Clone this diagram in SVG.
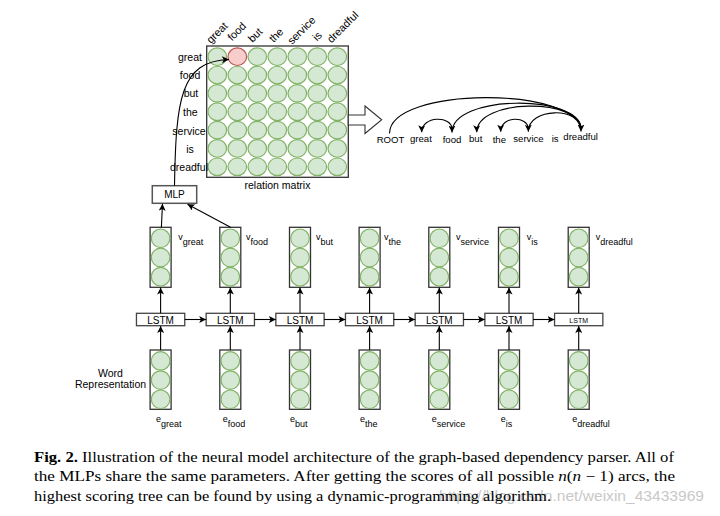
<svg xmlns="http://www.w3.org/2000/svg" xmlns:xlink="http://www.w3.org/1999/xlink" width="720" height="516" viewBox="0 0 720 516">
<style>
.t{font-family:"Liberation Sans",Arial,sans-serif;fill:#000}
.g{fill:#d5e8d4;stroke:#82b366;stroke-width:1.2}
.r{fill:#f8cecc;stroke:#b85450;stroke-width:1.2}
.box{fill:none;stroke:#333;stroke-width:1.3}
.lstm{fill:#fff;stroke:#444;stroke-width:1.3}
.e{fill:none;stroke:#000;stroke-width:1.1}
.cap{font-family:"Liberation Serif","Times New Roman",serif;font-size:14.6px;fill:#000}
</style>
<defs>
<marker id="ah" viewBox="0 0 8 8" refX="8" refY="4" markerWidth="7" markerHeight="7" markerUnits="userSpaceOnUse" orient="auto">
<path d="M0,0 L8,4 L0,8 L2,4 z" fill="#000"/>
</marker>
<ellipse id="mc" cx="0" cy="0" rx="9.3" ry="8.8"/>
<g id="col">
<circle class="g" cx="0" cy="0" r="9.3"/>
<circle class="g" cx="0" cy="19.2" r="9.3"/>
<circle class="g" cx="0" cy="38.4" r="9.3"/>
</g>
</defs>
<rect width="720" height="516" fill="#fff"/>

<g id="matrix">
<rect x="206.7" y="46" width="141.6" height="131.3" fill="#fff" stroke="#333" stroke-width="1.3"/>
<g class="g">
<use xlink:href="#mc" x="217.3" y="56.7"/><use xlink:href="#mc" x="237.3" y="56.7" class="r" style="fill:#f8cecc;stroke:#b85450"/><use xlink:href="#mc" x="257.3" y="56.7"/><use xlink:href="#mc" x="277.3" y="56.7"/><use xlink:href="#mc" x="297.3" y="56.7"/><use xlink:href="#mc" x="317.3" y="56.7"/><use xlink:href="#mc" x="337.3" y="56.7"/>
<use xlink:href="#mc" x="217.3" y="75.05"/><use xlink:href="#mc" x="237.3" y="75.05"/><use xlink:href="#mc" x="257.3" y="75.05"/><use xlink:href="#mc" x="277.3" y="75.05"/><use xlink:href="#mc" x="297.3" y="75.05"/><use xlink:href="#mc" x="317.3" y="75.05"/><use xlink:href="#mc" x="337.3" y="75.05"/>
<use xlink:href="#mc" x="217.3" y="93.4"/><use xlink:href="#mc" x="237.3" y="93.4"/><use xlink:href="#mc" x="257.3" y="93.4"/><use xlink:href="#mc" x="277.3" y="93.4"/><use xlink:href="#mc" x="297.3" y="93.4"/><use xlink:href="#mc" x="317.3" y="93.4"/><use xlink:href="#mc" x="337.3" y="93.4"/>
<use xlink:href="#mc" x="217.3" y="111.75"/><use xlink:href="#mc" x="237.3" y="111.75"/><use xlink:href="#mc" x="257.3" y="111.75"/><use xlink:href="#mc" x="277.3" y="111.75"/><use xlink:href="#mc" x="297.3" y="111.75"/><use xlink:href="#mc" x="317.3" y="111.75"/><use xlink:href="#mc" x="337.3" y="111.75"/>
<use xlink:href="#mc" x="217.3" y="130.1"/><use xlink:href="#mc" x="237.3" y="130.1"/><use xlink:href="#mc" x="257.3" y="130.1"/><use xlink:href="#mc" x="277.3" y="130.1"/><use xlink:href="#mc" x="297.3" y="130.1"/><use xlink:href="#mc" x="317.3" y="130.1"/><use xlink:href="#mc" x="337.3" y="130.1"/>
<use xlink:href="#mc" x="217.3" y="148.45"/><use xlink:href="#mc" x="237.3" y="148.45"/><use xlink:href="#mc" x="257.3" y="148.45"/><use xlink:href="#mc" x="277.3" y="148.45"/><use xlink:href="#mc" x="297.3" y="148.45"/><use xlink:href="#mc" x="317.3" y="148.45"/><use xlink:href="#mc" x="337.3" y="148.45"/>
<use xlink:href="#mc" x="217.3" y="166.8"/><use xlink:href="#mc" x="237.3" y="166.8"/><use xlink:href="#mc" x="257.3" y="166.8"/><use xlink:href="#mc" x="277.3" y="166.8"/><use xlink:href="#mc" x="297.3" y="166.8"/><use xlink:href="#mc" x="317.3" y="166.8"/><use xlink:href="#mc" x="337.3" y="166.8"/>
</g>
<g class="t" font-size="10.5" text-anchor="middle">
<text x="190" y="60.7">great</text>
<text x="190" y="79">food</text>
<text x="191" y="97.3">but</text>
<text x="190.3" y="116">the</text>
<text x="189" y="135">service</text>
<text x="190" y="153">is</text>
<text x="189" y="170.7">dreadful</text>
<text x="277.5" y="188.5">relation matrix</text>
</g>
<g class="t" font-size="10.8">
<text transform="translate(211,44) rotate(-45)">great</text>
<text transform="translate(232,41.5) rotate(-45)">food</text>
<text transform="translate(252.5,43) rotate(-45)">but</text>
<text transform="translate(273.5,43) rotate(-45)">the</text>
<text transform="translate(292,45) rotate(-45)">service</text>
<text transform="translate(317,41.5) rotate(-45)">is</text>
<text transform="translate(331.5,43.5) rotate(-45)">dreadful</text>
</g>
</g>

<g id="big-arrow">
<polygon points="348.3,115 365,115 365,106 381.7,119.8 365,133.5 365,125 348.3,125" fill="#fff" stroke="#333" stroke-width="1.1"/>
</g>

<g id="tree" class="t" font-size="9.6">
<text x="376.7" y="142.7">ROOT</text>
<text x="410" y="141.7">great</text>
<text x="442.7" y="143.3">food</text>
<text x="469" y="141.7">but</text>
<text x="492.7" y="142.7">the</text>
<text x="513.3" y="141.7">service</text>
<text x="551.7" y="141.7">is</text>
<text x="563.3" y="140.3">dreadful</text>
</g>

<g id="mlp">
<rect x="152.3" y="185.7" width="44.4" height="17.6" fill="#fff" stroke="#555" stroke-width="1.5"/>
<text class="t" x="174.5" y="198" font-size="10" text-anchor="middle">MLP</text>
</g>

<g id="v-vectors">
<g id="v-great"><rect class="box" x="150.1" y="227.3" width="21" height="60"/><use xlink:href="#col" x="160.6" y="238.3"/><text class="t" x="178.3" y="239.5" font-size="9">v<tspan dy="5.5">great</tspan></text></g>
<g id="v-food"><rect class="box" x="219.8" y="227.3" width="21" height="60"/><use xlink:href="#col" x="230.3" y="238.3"/><text class="t" x="246" y="239.5" font-size="9">v<tspan dy="5.5">food</tspan></text></g>
<g id="v-but"><rect class="box" x="289.5" y="227.3" width="21" height="60"/><use xlink:href="#col" x="300" y="238.3"/><text class="t" x="316" y="239.5" font-size="9">v<tspan dy="5.5">but</tspan></text></g>
<g id="v-the"><rect class="box" x="359.1" y="227.3" width="21" height="60"/><use xlink:href="#col" x="369.6" y="238.3"/><text class="t" x="384" y="239.5" font-size="9">v<tspan dy="5.5">the</tspan></text></g>
<g id="v-service"><rect class="box" x="428.8" y="227.3" width="21" height="60"/><use xlink:href="#col" x="439.3" y="238.3"/><text class="t" x="456" y="239.5" font-size="9">v<tspan dy="5.5">service</tspan></text></g>
<g id="v-is"><rect class="box" x="498.5" y="227.3" width="21" height="60"/><use xlink:href="#col" x="509" y="238.3"/><text class="t" x="526.7" y="239.5" font-size="9">v<tspan dy="5.5">is</tspan></text></g>
<g id="v-dreadful"><rect class="box" x="568.2" y="227.3" width="21" height="60"/><use xlink:href="#col" x="578.7" y="238.3"/><text class="t" x="595.7" y="239.5" font-size="9">v<tspan dy="5.5">dreadful</tspan></text></g>
</g>

<g id="lstms" class="t">
<g id="lstm1"><rect class="lstm" x="136.45" y="313.3" width="48.3" height="12.4"/><text x="160.6" y="323.8" font-size="10" text-anchor="middle">LSTM</text></g>
<g id="lstm2"><rect class="lstm" x="206.15" y="313.3" width="48.3" height="12.4"/><text x="230.3" y="323.8" font-size="10" text-anchor="middle">LSTM</text></g>
<g id="lstm3"><rect class="lstm" x="275.85" y="313.3" width="48.3" height="12.4"/><text x="300" y="323.8" font-size="10" text-anchor="middle">LSTM</text></g>
<g id="lstm4"><rect class="lstm" x="345.45" y="313.3" width="48.3" height="12.4"/><text x="369.6" y="323.8" font-size="10" text-anchor="middle">LSTM</text></g>
<g id="lstm5"><rect class="lstm" x="415.15" y="313.3" width="48.3" height="12.4"/><text x="439.3" y="323.8" font-size="10" text-anchor="middle">LSTM</text></g>
<g id="lstm6"><rect class="lstm" x="484.85" y="313.3" width="48.3" height="12.4"/><text x="509" y="323.8" font-size="10" text-anchor="middle">LSTM</text></g>
<g id="lstm7"><rect class="lstm" x="554.55" y="313.3" width="48.3" height="12.4"/><text x="578.7" y="322.6" font-size="7" text-anchor="middle">LSTM</text></g>
</g>

<g id="e-vectors">
<g id="e-great"><rect class="box" x="150.1" y="350" width="21" height="59.3"/><use xlink:href="#col" x="160.6" y="360.9"/><text class="t" x="156" y="421.7" font-size="9">e<tspan dy="5">great</tspan></text></g>
<g id="e-food"><rect class="box" x="219.8" y="350" width="21" height="59.3"/><use xlink:href="#col" x="230.3" y="360.9"/><text class="t" x="222.7" y="421.7" font-size="9">e<tspan dy="5">food</tspan></text></g>
<g id="e-but"><rect class="box" x="289.5" y="350" width="21" height="59.3"/><use xlink:href="#col" x="300" y="360.9"/><text class="t" x="290" y="421.7" font-size="9">e<tspan dy="5">but</tspan></text></g>
<g id="e-the"><rect class="box" x="359.1" y="350" width="21" height="59.3"/><use xlink:href="#col" x="369.6" y="360.9"/><text class="t" x="360" y="421.7" font-size="9">e<tspan dy="5">the</tspan></text></g>
<g id="e-service"><rect class="box" x="428.8" y="350" width="21" height="59.3"/><use xlink:href="#col" x="439.3" y="360.9"/><text class="t" x="431.7" y="421.7" font-size="9">e<tspan dy="5">service</tspan></text></g>
<g id="e-is"><rect class="box" x="498.5" y="350" width="21" height="59.3"/><use xlink:href="#col" x="509" y="360.9"/><text class="t" x="500.7" y="421.7" font-size="9">e<tspan dy="5">is</tspan></text></g>
<g id="e-dreadful"><rect class="box" x="568.2" y="350" width="21" height="59.3"/><use xlink:href="#col" x="578.7" y="360.9"/><text class="t" x="572.3" y="421.7" font-size="9">e<tspan dy="5">dreadful</tspan></text></g>
</g>

<g id="word-rep" class="t" font-size="10.5" text-anchor="middle">
<text x="110.5" y="376.7">Word</text>
<text x="110.5" y="388.3">Representation</text>
</g>

<g id="connectors" class="e" marker-end="url(#ah)">
<path d="M174.5,185.7 C176,100 180,61 229,59.5"/>
<path d="M161.4,227.3 L162.5,203.8"/>
<path d="M230.5,227.3 L187.5,204.3"/>
<path d="M184.75,319.5 L206.15,319.5"/>
<path d="M254.45,319.5 L275.85,319.5"/>
<path d="M324.15,319.5 L345.45,319.5"/>
<path d="M393.75,319.5 L415.15,319.5"/>
<path d="M463.45,319.5 L484.85,319.5"/>
<path d="M533.15,319.5 L554.55,319.5"/>
<path d="M160.6,313.3 L160.6,287.6"/>
<path d="M230.3,313.3 L230.3,287.6"/>
<path d="M300,313.3 L300,287.6"/>
<path d="M369.6,313.3 L369.6,287.6"/>
<path d="M439.3,313.3 L439.3,287.6"/>
<path d="M509,313.3 L509,287.6"/>
<path d="M578.7,313.3 L578.7,287.6"/>
<path d="M160.6,350 L160.6,326"/>
<path d="M230.3,350 L230.3,326"/>
<path d="M300,350 L300,326"/>
<path d="M369.6,350 L369.6,326"/>
<path d="M439.3,350 L439.3,326"/>
<path d="M509,350 L509,326"/>
<path d="M578.7,350 L578.7,326"/>
<path d="M389.5,133.5 C389.5,86 581,86 581,131.5"/>
<path d="M581,129 C581,94 452,94 452,132.5"/>
<path d="M581,129 C581,98 476.7,98 476.7,132.3"/>
<path d="M581,129 C581,107 528.3,107 528.3,131.7"/>
<path d="M452,129 C452,115.5 421.7,115.5 421.7,132.3"/>
<path d="M528.3,129 C528.3,115.5 500.7,115.5 500.7,131.7"/>
</g>

<g id="caption">
<text x="439" y="500.5" font-family="Liberation Sans,Arial,sans-serif" font-size="14.5" fill="#c8c8c8" textLength="265" lengthAdjust="spacingAndGlyphs">https://blog.csdn.net/weixin_43433969</text>
<text class="cap" x="34" y="461.5" textLength="640" lengthAdjust="spacingAndGlyphs"><tspan font-weight="bold">Fig. 2.</tspan> Illustration of the neural model architecture of the graph-based dependency parser. All of</text>
<text class="cap" x="34" y="481" textLength="641" lengthAdjust="spacingAndGlyphs">the MLPs share the same parameters. After getting the scores of all possible <tspan font-style="italic">n</tspan>(<tspan font-style="italic">n</tspan> − 1) arcs, the</text>
<text class="cap" x="34" y="500.5" textLength="517" lengthAdjust="spacingAndGlyphs">highest scoring tree can be found by using a dynamic-programming algorithm.</text>
</g>
</svg>
